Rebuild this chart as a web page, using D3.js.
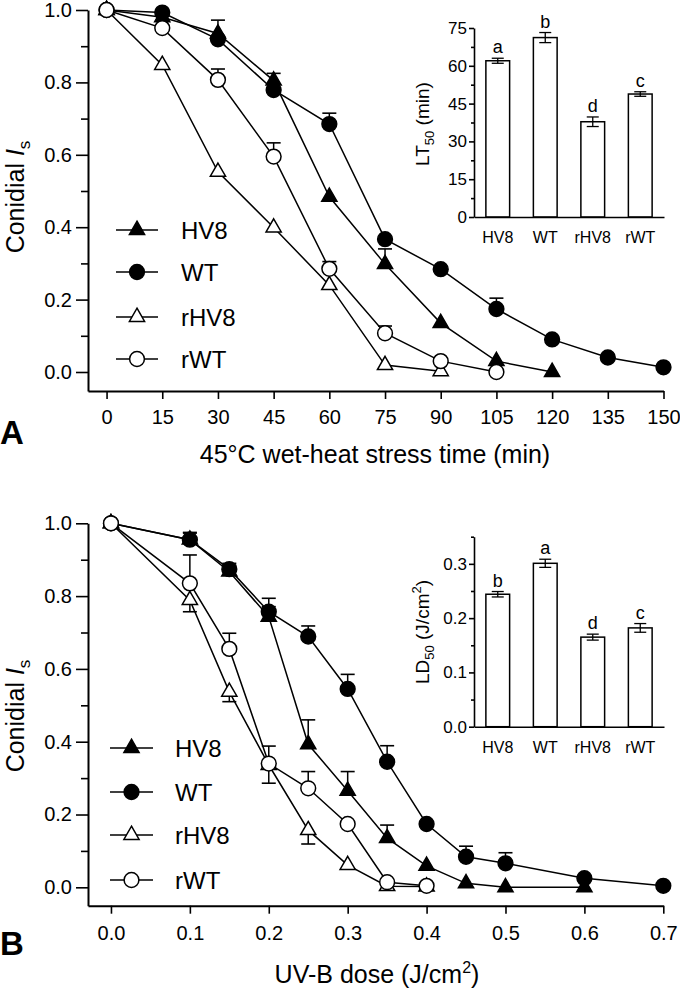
<!DOCTYPE html>
<html>
<head>
<meta charset="utf-8">
<script src="https://cdn.jsdelivr.net/npm/d3@7"></script>
<style>
  html, body { margin: 0; padding: 0; background: #fff; }
  svg { display: block; }
  text { font-family: 'Liberation Sans', Arial, Helvetica, sans-serif; fill: #000; }
</style>
</head>
<body>
<svg id="chart" width="680" height="990"></svg>
<script>
// ---------------- DATA ----------------
const strains = ["HV8", "WT", "rHV8", "rWT"];

// Panel A: 45°C wet-heat stress time (min)
const timeTicksA = [0, 15, 30, 45, 60, 75, 90, 105, 120, 135, 150];
const hv8TimeA = [0, 15, 30, 45, 60, 75, 90, 105, 120];
const hv8A     = [1.0, 0.98, 0.935, 0.805, 0.484, 0.298, 0.135, 0.03, 0.0];
const hv8AErr  = [0, 0, 0.037, 0.02, 0, 0.042, 0, 0, 0];
const wtTimeA  = [0, 15, 30, 45, 60, 75, 90, 105, 120, 135, 150];
const wtA      = [1.0, 0.993, 0.919, 0.779, 0.685, 0.367, 0.284, 0.174, 0.09, 0.04, 0.013];
const wtAErr   = [0, 0, 0, 0, 0.03, 0, 0, 0.03, 0, 0, 0];
const rhv8TimeA = [0, 15, 30, 45, 60, 75, 90];
const rhv8A    = [1.0, 0.848, 0.553, 0.399, 0.24, 0.019, 0.002];
const rhv8AErr = [0, 0, 0, 0, 0, 0, 0];
const rwtTimeA = [0, 15, 30, 45, 60, 75, 90, 105];
const rwtA     = [1.0, 0.95, 0.807, 0.595, 0.285, 0.107, 0.03, 0.0];
const rwtAErr  = [0, 0, 0.03, 0.038, 0.02, 0.02, 0, 0];

// Inset A: LT50 (min)
const lt50       = [62.0, 71.2, 37.8, 48.8];
const lt50Err    = [1.0, 2.0, 1.9, 0.9];
const lt50Letters = ["a", "b", "d", "c"];
const lt50Ticks  = [0, 15, 30, 45, 60, 75];

// Panel B: UV-B dose (J/cm2)
const doseTicksB = [0, 0.1, 0.2, 0.3, 0.4, 0.5, 0.6, 0.7];
const hv8DoseB = [0, 0.1, 0.15, 0.2, 0.25, 0.3, 0.35, 0.4, 0.45, 0.5, 0.6];
const hv8B     = [1.0, 0.955, 0.867, 0.743, 0.393, 0.265, 0.135, 0.059, 0.011, 0.0, 0.0];
const hv8BErr  = [0, 0.02, 0.018, 0.028, 0.067, 0.053, 0.036, 0, 0, 0, 0];
const wtDoseB  = [0, 0.1, 0.15, 0.2, 0.25, 0.3, 0.35, 0.4, 0.45, 0.5, 0.6, 0.7];
const wtB      = [1.0, 0.955, 0.874, 0.757, 0.689, 0.545, 0.345, 0.174, 0.084, 0.066, 0.025, 0.004];
const wtBErr   = [0, 0.018, 0.016, 0.037, 0.029, 0.04, 0.044, 0, 0.029, 0.029, 0, 0];
const rhv8DoseB = [0, 0.1, 0.15, 0.2, 0.25, 0.3, 0.35, 0.4];
const rhv8B    = [1.0, 0.789, 0.537, 0.336, 0.157, 0.061, 0.003, 0.002];
const rhv8BErr = [0, 0.032, 0.027, 0.05, 0.038, 0, 0, 0];
const rwtDoseB = [0, 0.1, 0.15, 0.2, 0.25, 0.3, 0.35, 0.4];
const rwtB     = [1.0, 0.835, 0.655, 0.34, 0.272, 0.174, 0.014, 0.004];
const rwtBErr  = [0, 0.078, 0.043, 0.048, 0.046, 0, 0, 0];

// Inset B: LD50 (J/cm2)
const ld50       = [0.244, 0.301, 0.165, 0.182];
const ld50Err    = [0.005, 0.0075, 0.0055, 0.008];
const ld50Letters = ["b", "a", "d", "c"];
const ld50Ticks  = [0, 0.1, 0.2, 0.3];

const yTicksMain = [0, 0.2, 0.4, 0.6, 0.8, 1.0];

// ---------------- DRAWING ----------------
const svg = d3.select("#chart");
const FONT = "'Liberation Sans', Arial, Helvetica, sans-serif";

function symbolFor(name) {
  const tri = d3.symbol().type(d3.symbolTriangle).size(100);
  const cir = d3.symbol().type(d3.symbolCircle).size(172);
  if (name === "HV8") return { path: tri(), fill: "#000" };
  if (name === "WT") return { path: cir(), fill: "#000" };
  if (name === "rHV8") return { path: tri(), fill: "#fff" };
  return { path: cir(), fill: "#fff" };
}

function styleAxis(g, fontSize) {
  g.selectAll("path.domain").attr("stroke", "#000").attr("stroke-width", 2);
  g.selectAll(".tick line").attr("stroke", "#000").attr("stroke-width", 1.6);
  g.selectAll(".tick text").attr("font-size", fontSize).attr("font-family", FONT).attr("fill", "#000");
}

function drawMain(cfg) {
  const g = svg.append("g");
  const x = cfg.x, y = cfg.y;
  // y axis major
  const yAxG = g.append("g").attr("transform", `translate(${x.range()[0]},0)`)
    .call(d3.axisLeft(y).tickValues(yTicksMain).tickFormat(d3.format(".1f"))
      .tickSize(12).tickSizeOuter(0).tickPadding(4));
  styleAxis(yAxG, 20);
  // y minor
  const yMin = g.append("g").attr("transform", `translate(${x.range()[0]},0)`)
    .call(d3.axisLeft(y).tickValues([0.1, 0.3, 0.5, 0.7, 0.9]).tickFormat("").tickSize(7).tickSizeOuter(0));
  yMin.select("path.domain").remove();
  styleAxis(yMin, 20);
  // x axis
  const xAxG = g.append("g").attr("transform", `translate(0,${y.range()[0]})`)
    .call(d3.axisBottom(x).tickValues(cfg.xTicks).tickFormat(cfg.xFormat)
      .tickSize(8).tickSizeOuter(0).tickPadding(cfg.xPad));
  styleAxis(xAxG, 20);

  // lines
  const line = d3.line().x(d => x(d[0])).y(d => y(d[1]));
  cfg.series.forEach(s => {
    g.append("path").datum(s.xs.map((v, i) => [v, s.ys[i]]))
      .attr("d", line).attr("fill", "none").attr("stroke", "#000").attr("stroke-width", 1.5);
  });
  // error bars
  cfg.series.forEach(s => {
    s.xs.forEach((v, i) => {
      const e = s.errs[i];
      if (!e) return;
      const y0 = y(s.ys[i]), y1 = y(s.ys[i] + s.dir * e);
      g.append("line").attr("x1", x(v)).attr("x2", x(v)).attr("y1", y0).attr("y2", y1)
        .attr("stroke", "#000").attr("stroke-width", 1.5);
      g.append("line").attr("x1", x(v) - 7).attr("x2", x(v) + 7).attr("y1", y1).attr("y2", y1)
        .attr("stroke", "#000").attr("stroke-width", 1.6);
    });
  });
  // markers
  cfg.series.forEach(s => {
    const sym = symbolFor(s.name);
    s.xs.forEach((v, i) => {
      g.append("path").attr("d", sym.path)
        .attr("transform", `translate(${x(v)},${y(s.ys[i])})`)
        .attr("fill", sym.fill).attr("stroke", "#000").attr("stroke-width", 1.5);
    });
  });

  // legend
  const L = cfg.legend;
  strains.forEach((nm, i) => {
    const ly = L.ys[i];
    g.append("line").attr("x1", L.x1).attr("x2", L.x2).attr("y1", ly).attr("y2", ly)
      .attr("stroke", "#000").attr("stroke-width", 1.5);
    const sym = symbolFor(nm);
    g.append("path").attr("d", sym.path)
      .attr("transform", `translate(${(L.x1 + L.x2) / 2},${ly})`)
      .attr("fill", sym.fill).attr("stroke", "#000").attr("stroke-width", 1.5);
    g.append("text").attr("x", L.tx).attr("y", ly + 8.5).attr("font-size", 24).text(nm);
  });

  // y title
  const yt = g.append("text").attr("transform", `translate(${cfg.yTitle[0]},${cfg.yTitle[1]}) rotate(-90)`)
    .attr("text-anchor", "middle").attr("font-size", 25);
  yt.append("tspan").text("Conidial ");
  yt.append("tspan").attr("font-style", "italic").text("I");
  yt.append("tspan").attr("font-size", 17).attr("dy", 6).text("s");

  // x title
  const xt = g.append("text").attr("x", cfg.xTitle[0]).attr("y", cfg.xTitle[1])
    .attr("text-anchor", "middle").attr("font-size", 25);
  cfg.xTitleFn(xt);

  // panel label
  g.append("text").attr("x", 0).attr("y", cfg.panel[1]).attr("font-size", 33)
    .attr("font-weight", "bold").text(cfg.panel[0]);
}

function drawInset(cfg) {
  const g = svg.append("g");
  const xb = d3.scaleBand().domain(strains).range([474, 664]).paddingInner(0.5).paddingOuter(0.25);
  const y = cfg.y;
  // bars
  strains.forEach((nm, i) => {
    g.append("rect").attr("x", xb(nm)).attr("width", xb.bandwidth())
      .attr("y", y(cfg.vals[i])).attr("height", y(0) - y(cfg.vals[i]))
      .attr("fill", "#fff").attr("stroke", "#000").attr("stroke-width", 1.5);
    const cx = xb(nm) + xb.bandwidth() / 2;
    const yt = y(cfg.vals[i] + cfg.errs[i]), yb = y(cfg.vals[i] - cfg.errs[i]);
    g.append("line").attr("x1", cx).attr("x2", cx).attr("y1", yt).attr("y2", yb)
      .attr("stroke", "#000").attr("stroke-width", 1.3);
    [yt, yb].forEach(yy => g.append("line").attr("x1", cx - 6).attr("x2", cx + 6)
      .attr("y1", yy).attr("y2", yy).attr("stroke", "#000").attr("stroke-width", 1.3));
    g.append("text").attr("x", cx).attr("y", yt - 5).attr("text-anchor", "middle")
      .attr("font-size", 18).text(cfg.letters[i]);
  });
  // y axis
  const yAx = g.append("g").attr("transform", "translate(474,0)")
    .call(d3.axisLeft(y).tickValues(cfg.ticks).tickFormat(cfg.fmt).tickSize(5).tickSizeOuter(0).tickPadding(2));
  styleAxis(yAx, 17);
  yAx.selectAll("path.domain").attr("stroke-width", 1.6);
  const yMin = g.append("g").attr("transform", "translate(474,0)")
    .call(d3.axisLeft(y).tickValues(cfg.minor).tickFormat("").tickSize(3).tickSizeOuter(0));
  yMin.select("path.domain").remove();
  styleAxis(yMin, 17);
  // x axis
  const xAx = g.append("g").attr("transform", `translate(0,${y(0)})`)
    .call(d3.axisBottom(xb).tickSize(0).tickSizeOuter(0).tickPadding(15));
  styleAxis(xAx, 16);
  xAx.selectAll("path.domain").attr("stroke-width", 1.6);
  // y title
  const t = g.append("text").attr("transform", `translate(429,${cfg.titleY}) rotate(-90)`)
    .attr("text-anchor", "middle").attr("font-size", 19);
  cfg.titleFn(t);
}

// ---------- Panel A ----------
const xA = d3.scaleLinear().domain([-5, 150]).range([88, 663.5]);
const yA = d3.scaleLinear().domain([-0.0525, 1.0]).range([391, 10]);
drawMain({
  x: xA, y: yA, xTicks: timeTicksA, xFormat: d3.format("d"), xPad: 11,
  series: [
    { name: "HV8", xs: hv8TimeA, ys: hv8A, errs: hv8AErr, dir: 1 },
    { name: "WT", xs: wtTimeA, ys: wtA, errs: wtAErr, dir: 1 },
    { name: "rHV8", xs: rhv8TimeA, ys: rhv8A, errs: rhv8AErr, dir: -1 },
    { name: "rWT", xs: rwtTimeA, ys: rwtA, errs: rwtAErr, dir: 1 }
  ],
  legend: { x1: 116, x2: 158, tx: 181, ys: [230, 272, 317, 359] },
  yTitle: [24, 197],
  xTitle: [375, 463],
  xTitleFn: t => t.text("45\u00B0C wet-heat stress time (min)"),
  panel: ["A", 444]
});
drawInset({
  y: d3.scaleLinear().domain([0, 75]).range([217, 28]),
  vals: lt50, errs: lt50Err, letters: lt50Letters,
  ticks: lt50Ticks, minor: [7.5, 22.5, 37.5, 52.5, 67.5], fmt: d3.format("d"),
  titleY: 124,
  titleFn: t => {
    t.append("tspan").text("LT");
    t.append("tspan").attr("font-size", 13).attr("dy", 5).text("50");
    t.append("tspan").attr("dy", -5).text(" (min)");
  }
});

// ---------- Panel B ----------
const xB = d3.scaleLinear().domain([-0.0291, 0.7]).range([88, 663.3]);
const yB = d3.scaleLinear().domain([-0.0505, 1.0]).range([905.7, 523.3]);
drawMain({
  x: xB, y: yB, xTicks: doseTicksB, xFormat: d3.format(".1f"), xPad: 12,
  series: [
    { name: "HV8", xs: hv8DoseB, ys: hv8B, errs: hv8BErr, dir: 1 },
    { name: "WT", xs: wtDoseB, ys: wtB, errs: wtBErr, dir: 1 },
    { name: "rHV8", xs: rhv8DoseB, ys: rhv8B, errs: rhv8BErr, dir: -1 },
    { name: "rWT", xs: rwtDoseB, ys: rwtB, errs: rwtBErr, dir: 1 }
  ],
  legend: { x1: 110, x2: 153, tx: 175, ys: [748, 792, 835, 880] },
  yTitle: [24, 716],
  xTitle: [377, 983],
  xTitleFn: t => {
    t.append("tspan").text("UV-B dose (J/cm");
    t.append("tspan").attr("font-size", 16).attr("dy", -10).text("2");
    t.append("tspan").attr("dy", 10).text(")");
  },
  panel: ["B", 955]
});
drawInset({
  y: d3.scaleLinear().domain([0, 0.35]).range([726.7, 536.7]),
  vals: ld50, errs: ld50Err, letters: ld50Letters,
  ticks: ld50Ticks, minor: [0.05, 0.15, 0.25, 0.35], fmt: d3.format(".1f"),
  titleY: 632,
  titleFn: t => {
    t.append("tspan").text("LD");
    t.append("tspan").attr("font-size", 13).attr("dy", 5).text("50");
    t.append("tspan").attr("dy", -5).text(" (J/cm");
    t.append("tspan").attr("font-size", 13).attr("dy", -8).text("2");
    t.append("tspan").attr("dy", 8).text(")");
  }
});
</script>
</body>
</html>
